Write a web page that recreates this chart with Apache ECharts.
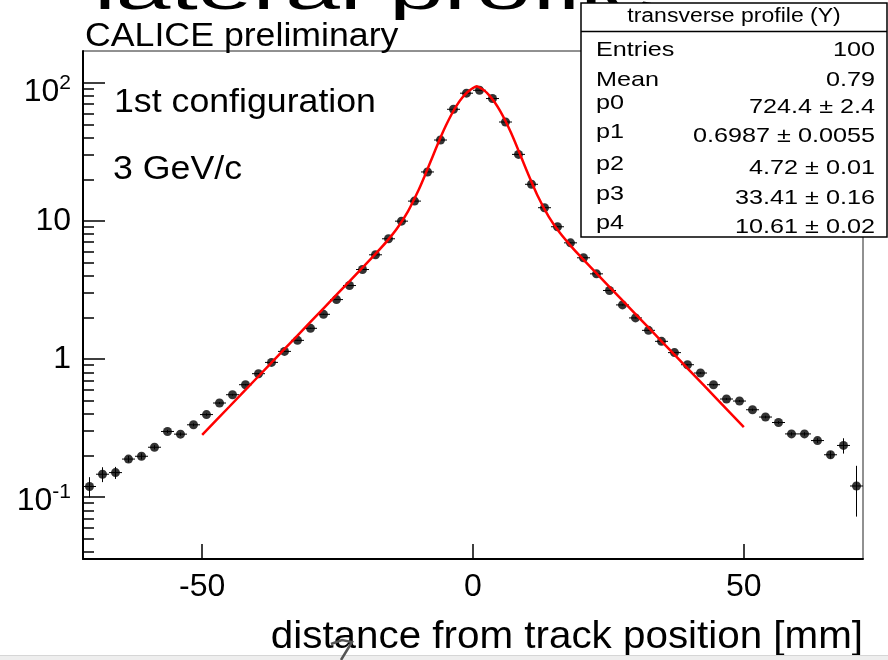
<!DOCTYPE html>
<html>
<head>
<meta charset="utf-8">
<script src="https://cdn.jsdelivr.net/npm/echarts@6/dist/echarts.min.js"></script>
<style>
html,body{margin:0;padding:0;background:#fff}
#chart{width:888px;height:660px}
</style>
</head>
<body>
<div id="chart"></div>
<script>
// bin centres [mm]
const binX = [-70.8,-68.4,-66.0,-63.6,-61.2,-58.8,-56.4,-54.0,-51.6,-49.2,-46.8,-44.4,-42.0,-39.6,-37.2,
  -34.8,-32.4,-30.0,-27.6,-25.2,-22.8,-20.4,-18.0,-15.6,-13.2,-10.8,-8.4,-6.0,-3.6,-1.2,
  1.2,3.6,6.0,8.4,10.8,13.2,15.6,18.0,20.4,22.8,25.2,27.6,30.0,32.4,34.8,
  37.2,39.6,42.0,44.4,46.8,49.2,51.6,54.0,56.4,58.8,61.2,63.6,66.0,68.4,70.8];
const counts = [0.119,0.146,0.150,0.188,0.197,0.229,0.298,0.285,0.333,0.395,0.479,0.550,0.650,0.781,0.943,
  1.133,1.362,1.665,2.103,2.689,3.398,4.44,5.675,7.413,9.95,13.9,22.6,38.5,64.3,84.1,
  88.3,76.9,52.0,30.3,18.4,12.45,9.06,6.93,5.40,4.13,3.13,2.46,1.98,1.61,1.34,
  1.11,0.907,0.790,0.650,0.512,0.495,0.428,0.379,0.346,0.286,0.286,0.256,0.202,0.236,0.120];
const countErr = [0.02,0.018,0.015,0.01,0.01,0.008,0.008,0.008,0.008,0.008,0.008,0.008,0.008,0.01,0.01,
  0.01,0.01,0.015,0.02,0.02,0.03,0.03,0.04,0.05,0.06,0.08,0.1,0.15,0.2,0.25,
  0.25,0.2,0.15,0.1,0.08,0.06,0.05,0.04,0.03,0.03,0.02,0.02,0.015,0.01,0.01,
  0.01,0.01,0.01,0.008,0.008,0.008,0.008,0.008,0.008,0.008,0.008,0.01,0.012,0.03,0.048];
const binHalf = 1.2;

// fitted curve
const fitX = [-50,-45,-40,-35,-30,-25,-20,-18,-16,-14,-12,-10,-9,-8,-7,-6,-5,-4,-3,-2,-1,0,0.7,1,2,3,4,5,6,7,8,9,10,12,14,16,18,20,25,30,35,40,45,50];
const fitY = [0.281,0.450,0.721,1.156,1.851,2.965,4.752,5.76,7.04,8.84,11.73,16.88,20.8,25.9,32.3,40.1,49.0,58.7,68.6,77.9,85.8,91.8,94.6,93.4,88.5,81.2,72.4,62.7,52.9,43.6,35.3,28.3,22.7,15.0,10.69,8.22,6.62,5.43,3.382,2.112,1.318,0.8226,0.5135,0.3206];

const xTicks = [-50, 0, 50];
const yMajor = [0.1, 1, 10, 100];
const yMinor = [0.04,0.05,0.06,0.07,0.08,0.09,0.2,0.3,0.4,0.5,0.6,0.7,0.8,0.9,2,3,4,5,6,7,8,9,20,30,40,50,60,70,80,90];

const statTitle = 'transverse profile (Y)';
const statNames = ['Entries','Mean','p0','p1','p2','p3','p4'];
const statValues = ['100','0.79','724.4 ± 2.4','0.6987 ± 0.0055','4.72 ± 0.01','33.41 ± 0.16','10.61 ± 0.02'];
const statBase = [57, 87, 114, 143, 175, 205, 234];

const FONT = 'Liberation Sans, Arial, Helvetica, sans-serif';

const chart = echarts.init(document.getElementById('chart'));

const points = binX.map((x, i) => [x, counts[i], countErr[i]]);
const fit = fitX.map((x, i) => [x, fitY[i]]);

// text placed by its baseline, with a horizontal stretch
const txt = (text, x, base, size, sx, align, extra) => Object.assign({
  type: 'text', x: x, y: base - 0.8 * size, scaleX: sx, originX: 0, originY: 0,
  style: {text: text, x: 0, y: 0, font: size + 'px ' + FONT, fill: '#000',
    textAlign: align || 'left', verticalAlign: 'top'}
}, extra || {});

const statTexts = [];
statNames.forEach((n, i) => {
  const lift = i >= 2 ? 4 : 0;
  statTexts.push(txt(n, 596, statBase[i] - lift, 21, 1.2, 'left', {z: 101}));
  statTexts.push(txt(statValues[i], 875, statBase[i], 21, 1.2, 'right', {z: 101}));
});

chart.setOption({
  animation: false,
  backgroundColor: '#fff',
  grid: {left: 83, right: 25, top: 51, bottom: 101, show: true, borderColor: '#222', borderWidth: 1},
  xAxis: {
    type: 'value', min: -72, max: 72,
    axisLine: {onZero: false, lineStyle: {color: '#000', width: 2}},
    axisTick: {customValues: xTicks, inside: true, length: 15, lineStyle: {color: '#000', width: 1.5}},
    axisLabel: {customValues: xTicks, color: '#000', fontSize: 32, fontFamily: FONT, margin: 12},
    splitLine: {show: false}
  },
  yAxis: [{
    type: 'log', logBase: 10, min: 0.0355, max: 170,
    axisLine: {show: true, onZero: false, lineStyle: {color: '#000', width: 2}},
    axisTick: {customValues: yMajor, inside: true, length: 22, lineStyle: {color: '#000', width: 1.5}},
    axisLabel: {
      customValues: yMajor, color: '#000', margin: 12, fontFamily: FONT,
      formatter: v => {
        if (v >= 99) return '{b|10}{s|2}';
        if (v >= 9) return '{n|10}';
        if (v >= 0.9) return '{n|1}';
        return '{c|10}{s|-1}';
      },
      rich: {
        n: {fontSize: 32, fontFamily: FONT, color: '#000'},
        b: {fontSize: 32, fontFamily: FONT, color: '#000', verticalAlign: 'bottom', padding: [18, 0, 0, 0]},
        c: {fontSize: 32, fontFamily: FONT, color: '#000', verticalAlign: 'bottom', padding: [8, 0, 0, 0]},
        s: {fontSize: 21, fontFamily: FONT, color: '#000', verticalAlign: 'bottom', padding: [0, 0, 14, 0]}
      }
    },
    splitLine: {show: false}
  }, {
    type: 'log', logBase: 10, min: 0.0355, max: 170, position: 'left',
    axisLine: {show: false, onZero: false},
    axisTick: {customValues: yMinor, inside: true, length: 11, lineStyle: {color: '#000', width: 1.5}},
    axisLabel: {show: false},
    splitLine: {show: false}
  }],
  series: [{
    type: 'custom',
    data: points,
    z: 2,
    renderItem: (params, api) => {
      const x = api.value(0), y = api.value(1), e = api.value(2);
      const l = api.coord([x - binHalf, y]);
      const r = api.coord([x + binHalf, y]);
      const t = api.coord([x, y + e]);
      const b = api.coord([x, y - e]);
      return {type: 'group', children: [
        {type: 'line', shape: {x1: l[0], y1: l[1], x2: r[0], y2: r[1]}, style: {stroke: '#000', lineWidth: 1}},
        {type: 'line', shape: {x1: t[0], y1: t[1], x2: b[0], y2: b[1]}, style: {stroke: '#000', lineWidth: 1}}
      ]};
    }
  }, {
    type: 'scatter',
    data: points.map(p => [p[0], p[1]]),
    symbol: 'circle', symbolSize: 9,
    itemStyle: {color: '#000'},
    z: 3
  }, {
    type: 'line',
    data: fit,
    symbol: 'none', smooth: 0.2,
    lineStyle: {color: '#ff0000', width: 2.5},
    z: 4
  }],
  graphic: [
    txt('lateral profile', 94, 10, 54, 1.82, 'left', {z: 50}),
    txt('CALICE preliminary', 85, 47, 34, 1.05),
    txt('1st configuration', 114, 113, 34, 1.05),
    txt('3 GeV/c', 113, 180, 34, 1.05),
    txt('distance from track position [mm]', 863, 649, 39, 1.035, 'right'),
    {type: 'rect', x: 581, y: 3, z: 100,
      shape: {x: 0, y: 0, width: 306, height: 234}, style: {fill: '#fff', stroke: '#000', lineWidth: 1.5}},
    {type: 'line', z: 101, shape: {x1: 581, y1: 31.5, x2: 887, y2: 31.5}, style: {stroke: '#000', lineWidth: 1.5}},
    txt(statTitle, 734, 22, 20, 1.15, 'center', {z: 101}),
    ...statTexts,
    {type: 'rect', x: 0, y: 655, shape: {x: 0, y: 0, width: 888, height: 5}, style: {fill: '#eeeeee'}},
    {type: 'line', shape: {x1: 0, y1: 655.5, x2: 888, y2: 655.5}, style: {stroke: '#d6d6d6', lineWidth: 1}},
    {type: 'polyline', shape: {points: [[331, 644], [342, 640], [352, 642], [341, 660]]}, style: {stroke: '#555', lineWidth: 2.5, fill: null}}
  ]
});
</script>
</body>
</html>
